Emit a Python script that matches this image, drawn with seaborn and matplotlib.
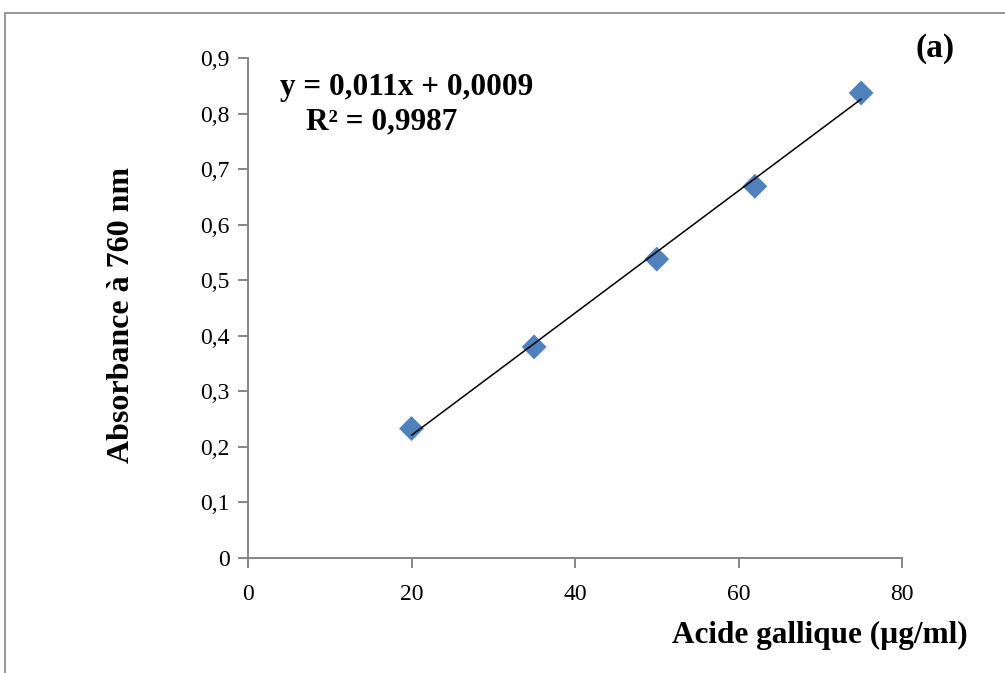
import numpy as np
import pandas as pd
import matplotlib
matplotlib.use("Agg")
import matplotlib.pyplot as plt
import seaborn as sns
from matplotlib.ticker import FuncFormatter
from matplotlib.patches import Rectangle

# Calibration data: gallic acid concentration vs absorbance
concentration = [20, 35, 50, 62, 75]
absorbance = [0.233, 0.380, 0.538, 0.669, 0.837]

# Linear trendline as reported
slope = 0.011
intercept = 0.0009
r_squared = 0.9987

x_ticks = [0, 20, 40, 60, 80]
y_ticks = [0, 0.1, 0.2, 0.3, 0.4, 0.5, 0.6, 0.7, 0.8, 0.9]

sns.set_theme(style="white")
plt.rcParams["font.family"] = ["Liberation Serif", "DejaVu Serif"]
plt.rcParams["text.color"] = "black"
plt.rcParams["axes.labelcolor"] = "black"

W, H = 1005, 673
fig = plt.figure(figsize=(W / 100, H / 100), dpi=100)
ax = fig.add_axes([248 / W, 1 - 558 / H, (902 - 248) / W, (558 - 58) / H])

# Outer frame of the chart area
fig.patches.append(Rectangle((5 / W, -0.1), 1.2, 1 - 13 / H + 0.1,
                             transform=fig.transFigure, fill=False,
                             edgecolor="#8c8c8c", linewidth=1.3, zorder=0))

df = pd.DataFrame({"x": concentration, "y": absorbance})
trend_x = np.array([concentration[0], concentration[-1]], dtype=float)
trend = pd.DataFrame({"x": trend_x, "y": slope * trend_x + intercept})

sns.lineplot(data=trend, x="x", y="y", ax=ax, color="black", linewidth=1.1, zorder=3)
sns.scatterplot(data=df, x="x", y="y", ax=ax, marker="D", s=160,
                color="#4F81BD", edgecolor="none", zorder=2)

ax.set_xlim(0, 80)
ax.set_ylim(0, 0.9)
ax.set_xticks(x_ticks)
ax.set_yticks(y_ticks)
fmt = FuncFormatter(lambda v, p: ("%g" % round(v, 2)).replace(".", ","))
ax.xaxis.set_major_formatter(fmt)
ax.yaxis.set_major_formatter(fmt)

for side in ["top", "right"]:
    ax.spines[side].set_visible(False)
for side in ["left", "bottom"]:
    ax.spines[side].set_color("#868686")
    ax.spines[side].set_linewidth(1.4)

ax.tick_params(axis="both", which="major", length=7, width=1.4, color="#868686",
               labelsize=17, labelcolor="black", direction="out")
ax.tick_params(axis="x", pad=12, bottom=True)
ax.tick_params(axis="y", pad=6, left=True)

ax.set_xlabel("")
ax.set_ylabel("Absorbance à 760 nm", fontsize=23, fontweight="bold")
ax.yaxis.set_label_coords((136 - 248) / 654, (558 - 315) / 500)

fig.text(968 / W, 1 - 643 / H, "Acide gallique (µg/ml)", ha="right", va="baseline",
         fontsize=22.5, fontweight="bold")

r2_text = f"{r_squared:.4f}".replace(".", ",")
fig.text(280 / W, 1 - 95 / H, "y = 0,011x + 0,0009", ha="left", va="baseline",
         fontsize=22.5, fontweight="bold")
fig.text(306 / W, 1 - 129 / H, f"R² = {r2_text}", ha="left", va="baseline",
         fontsize=22.5, fontweight="bold")
fig.text(935 / W, 1 - 48 / H, "(a)", ha="center", va="center",
         fontsize=24, fontweight="bold")

fig.savefig("out.png", dpi=100)
